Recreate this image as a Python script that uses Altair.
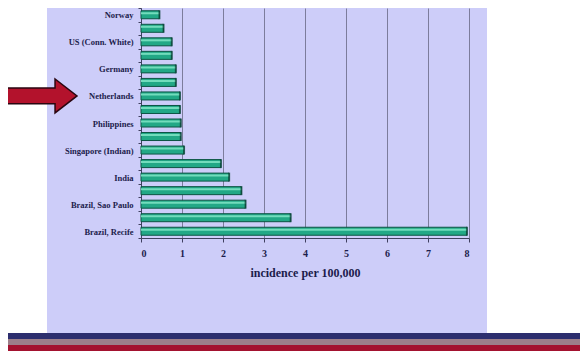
import altair as alt
import pandas as pd

# Only every other bar carries a label in the original chart
countries = ["Norway", "", "US (Conn. White)", "", "Germany", "", "Netherlands", "",
             "Philippines", "", "Singapore (Indian)", "", "India", "", "Brazil, Sao Paulo",
             "", "Brazil, Recife"]
incidence = [0.45, 0.55, 0.75, 0.75, 0.85, 0.85, 0.95, 0.95, 0.97, 0.97, 1.05,
             1.95, 2.15, 2.45, 2.55, 3.65, 7.95]
x_ticks = [0, 1, 2, 3, 4, 5, 6, 7, 8]
highlighted = "Netherlands"

idx = list(range(len(countries)))
df = pd.DataFrame({"idx": idx, "country": countries, "value": incidence})
arrow_df = pd.DataFrame({"idx": [countries.index(highlighted)]})
one = pd.DataFrame({"k": [0]})

label_js = "[" + ",".join("'" + c + "'" for c in countries) + "][datum.value]"
FONT = "Liberation Serif"
INK = "#1c1c4c"

yenc = alt.Y("idx:O", scale=alt.Scale(domain=idx, paddingInner=0, paddingOuter=0),
             axis=alt.Axis(title=None, labelExpr=label_js, labelFont=FONT, labelFontSize=8.5,
                           labelFontWeight="bold", labelColor=INK, labelPadding=5,
                           tickBand="extent", tickSize=3, tickColor="#404060",
                           domainColor="#404060", grid=False))
xenc = alt.X("value:Q", scale=alt.Scale(domain=[0, 8], nice=False),
             axis=alt.Axis(values=x_ticks, format="d", title="incidence per 100,000",
                           labelFont=FONT, labelFontSize=10, labelFontWeight="bold",
                           labelColor=INK, labelPadding=6, titleFont=FONT, titleFontSize=12,
                           titleFontWeight="bold", titleColor=INK, titlePadding=9,
                           grid=True, gridColor="#7c7c9c", gridWidth=1,
                           domainColor="#404060", tickColor="#404060", tickSize=4))

# white areas outside the lavender slide panel
left_white = alt.Chart(one).mark_rect(color="white").encode(
    x=alt.value(-140), x2=alt.value(-94), y=alt.value(-10), y2=alt.value(325))
right_white = alt.Chart(one).mark_rect(color="white").encode(
    x=alt.value(346), x2=alt.value(450), y=alt.value(-10), y2=alt.value(325))
navy = alt.Chart(one).mark_rect(color="#2c2e6e").encode(
    x=alt.value(-140), x2=alt.value(450), y=alt.value(325), y2=alt.value(331))
mauve = alt.Chart(one).mark_rect(color="#9c7f8a").encode(
    x=alt.value(-140), x2=alt.value(450), y=alt.value(331), y2=alt.value(337))
crimson = alt.Chart(one).mark_rect(color="#a3122f").encode(
    x=alt.value(-140), x2=alt.value(450), y=alt.value(337), y2=alt.value(345))

bars = alt.Chart(df).mark_bar(size=8, color="#22a886", stroke="#0c5444", strokeWidth=1).encode(
    y=yenc, x=xenc)
shine = alt.Chart(df).mark_bar(size=2, color="#72dcbc", yOffset=-1.5).encode(
    y="idx:O", x="value:Q")
caps = alt.Chart(df).mark_tick(color="#0c4438", thickness=2, size=9, orient="vertical").encode(
    y="idx:O", x="value:Q")

arrow_path = "M -1 -0.22 L 0.39 -0.22 L 0.39 -0.47 L 1 0 L 0.39 0.47 L 0.39 0.22 L -1 0.22 Z"
arrow = alt.Chart(arrow_df).mark_point(shape=arrow_path, size=5184, filled=True,
                                       fill="#b3122c", stroke="#2a0610", strokeWidth=1.5,
                                       opacity=1).encode(
    y="idx:O", x=alt.value(-100))

chart = alt.layer(left_white, right_white, navy, mauve, crimson, bars, shine, caps, arrow).properties(
    width=328, height=230,
    autosize=alt.AutoSizeParams(type="none"),
    padding={"left": 133, "top": 0, "right": 111, "bottom": 113},
    background="#cdcdf9",
).configure_view(strokeWidth=0)

chart.save("out.html", embed_options={"renderer": "svg", "actions": False})
